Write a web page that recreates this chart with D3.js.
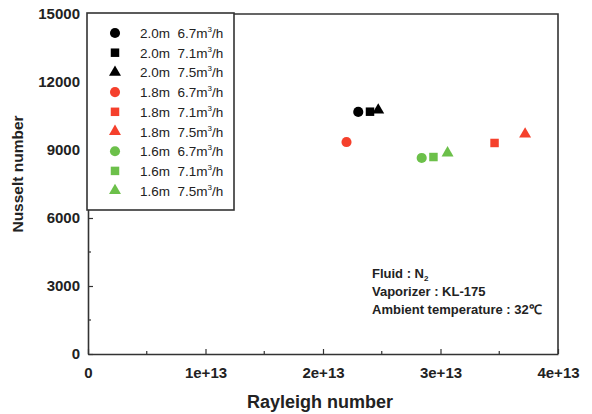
<!DOCTYPE html>
<html>
<head>
<meta charset="utf-8">
<script src="https://cdn.jsdelivr.net/npm/d3@7"></script>
<style>
  body { margin: 0; background: #fff; }
  svg { font-family: "Liberation Sans", Arial, sans-serif; }
</style>
</head>
<body>
<div id="chart"></div>
<script>
// Data
const labels = ['2.0m  6.7m', '2.0m  7.1m', '2.0m  7.5m',
                '1.8m  6.7m', '1.8m  7.1m', '1.8m  7.5m',
                '1.6m  6.7m', '1.6m  7.1m', '1.6m  7.5m'];
const rayleigh = [2.30e13, 2.40e13, 2.47e13, 2.20e13, 3.46e13, 3.72e13, 2.84e13, 2.94e13, 3.06e13];
const nusselt = [10680, 10690, 10760, 9350, 9310, 9700, 8650, 8690, 8870];
const shapes = ['circle', 'square', 'triangle', 'circle', 'square', 'triangle', 'circle', 'square', 'triangle'];
const colors = ['#000000', '#000000', '#000000', '#f5402c', '#f5402c', '#f5402c', '#6cc04a', '#6cc04a', '#6cc04a'];
const xTicks = [0, 1e13, 2e13, 3e13, 4e13];
const xTickLabels = ['0', '1e+13', '2e+13', '3e+13', '4e+13'];
const yTicks = [0, 3000, 6000, 9000, 12000, 15000];
const notes = ['Fluid : N', 'Vaporizer : KL-175', 'Ambient temperature : 32\u2103'];

const dimensions = { width: 592, height: 414, left: 88, right: 34, top: 14, bottom: 60 };
dimensions.ctrWidth = dimensions.width - dimensions.left - dimensions.right;
dimensions.ctrHeight = dimensions.height - dimensions.top - dimensions.bottom;

const svg = d3.select('#chart').append('svg')
  .attr('width', dimensions.width)
  .attr('height', dimensions.height);

const ctr = svg.append('g')
  .attr('transform', `translate(${dimensions.left}, ${dimensions.top})`);

// Scales
const xScale = d3.scaleLinear().domain([0, 4e13]).range([0, dimensions.ctrWidth]);
const yScale = d3.scaleLinear().domain([0, 15000]).range([dimensions.ctrHeight, 0]);

const symbolType = { circle: d3.symbolCircle, square: d3.symbolSquare, triangle: d3.symbolTriangle };
const symbolSize = { circle: 80, square: 72, triangle: 62 };
const sym = s => d3.symbol().type(symbolType[s]).size(symbolSize[s])();

const frameColor = '#333';

// minor ticks
const xMinor = d3.range(0.5e13, 4e13, 1e13);
const yMinor = d3.range(1500, 15000, 3000);

ctr.selectAll('.xminor').data(xMinor).join('line')
  .attr('x1', d => xScale(d)).attr('x2', d => xScale(d))
  .attr('y1', dimensions.ctrHeight).attr('y2', dimensions.ctrHeight - 3)
  .attr('stroke', frameColor).attr('stroke-width', 1.2);
ctr.selectAll('.yminor').data(yMinor).join('line')
  .attr('x1', 0).attr('x2', 3)
  .attr('y1', d => yScale(d)).attr('y2', d => yScale(d))
  .attr('stroke', frameColor).attr('stroke-width', 1.2);

// axes
const xAxis = d3.axisBottom(xScale).tickValues(xTicks)
  .tickFormat((d, i) => xTickLabels[i]).tickSizeInner(-5).tickSizeOuter(0).tickPadding(13);
const xAxisGroup = ctr.append('g')
  .attr('transform', `translate(0, ${dimensions.ctrHeight})`)
  .call(xAxis);

const yAxis = d3.axisLeft(yScale).tickValues(yTicks).tickFormat(d3.format('d'))
  .tickSizeInner(-5).tickSizeOuter(0).tickPadding(8);
const yAxisGroup = ctr.append('g').call(yAxis);

[xAxisGroup, yAxisGroup].forEach(g => {
  g.select('.domain').attr('stroke', frameColor).attr('stroke-width', 1.6);
  g.selectAll('.tick line').attr('stroke', frameColor).attr('stroke-width', 1.2);
  g.selectAll('.tick text').attr('fill', '#222')
    .style('font-size', '15px').style('font-weight', 'bold');
});

// frame top and right
ctr.append('path')
  .attr('d', `M0,0H${dimensions.ctrWidth}V${dimensions.ctrHeight}`)
  .attr('fill', 'none').attr('stroke', frameColor).attr('stroke-width', 1.6);

// axis titles
svg.append('text')
  .attr('x', 320)
  .attr('y', 408)
  .attr('text-anchor', 'middle')
  .style('font-size', '18px').style('font-weight', 'bold').attr('fill', '#222')
  .text('Rayleigh number');

svg.append('text')
  .attr('transform', 'translate(23, 174) rotate(-90)')
  .attr('text-anchor', 'middle')
  .style('font-size', '15.5px').style('font-weight', 'bold').attr('fill', '#222')
  .text('Nusselt number');

// points
ctr.selectAll('.pt').data(rayleigh).join('path')
  .attr('d', (d, i) => sym(shapes[i]))
  .attr('transform', (d, i) => `translate(${xScale(d)}, ${yScale(nusselt[i])})`)
  .attr('fill', (d, i) => colors[i]);

// legend
const legend = svg.append('g').attr('transform', 'translate(87, 13)');
legend.append('rect')
  .attr('width', 147).attr('height', 197)
  .attr('fill', '#fff').attr('stroke', frameColor).attr('stroke-width', 1.6);

const rows = legend.selectAll('.row').data(labels).join('g')
  .attr('transform', (d, i) => `translate(0, ${20 + i * 19.7})`);
rows.append('path')
  .attr('d', (d, i) => sym(shapes[i]))
  .attr('transform', 'translate(28, 0)')
  .attr('fill', (d, i) => colors[i]);
const rowText = rows.append('text')
  .attr('x', 53).attr('y', 5)
  .style('font-size', '13.5px').attr('fill', '#222')
  .style('white-space', 'pre')
  .attr('xml:space', 'preserve');
rowText.append('tspan').text(d => d);
rowText.append('tspan').attr('dy', -6).style('font-size', '8px').text('3');
rowText.append('tspan').attr('dy', 6).text('/h');

// annotation
const note = svg.append('g').attr('transform', 'translate(372, 0)');
note.selectAll('text').data(notes).join('text')
  .attr('y', (d, i) => 278 + i * 18)
  .style('font-size', '13px').style('font-weight', 'bold').attr('fill', '#222')
  .each(function (d, i) {
    const t = d3.select(this);
    t.append('tspan').text(d);
    if (i === 0) t.append('tspan').attr('dy', 3).style('font-size', '8px').text('2');
  });
</script>
</body>
</html>
